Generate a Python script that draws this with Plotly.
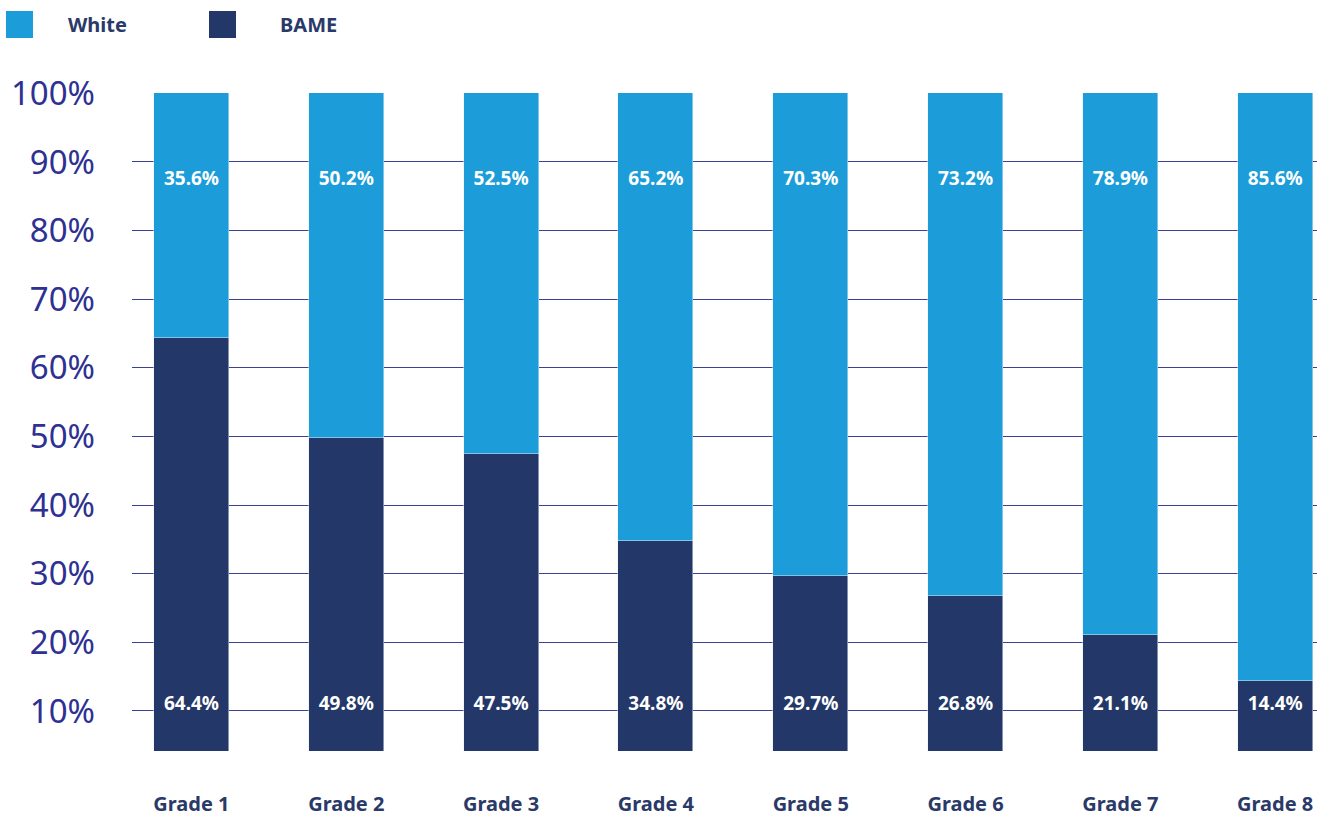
import plotly.graph_objects as go

grades = ["Grade 1", "Grade 2", "Grade 3", "Grade 4", "Grade 5", "Grade 6", "Grade 7", "Grade 8"]
white = [35.6, 50.2, 52.5, 65.2, 70.3, 73.2, 78.9, 85.6]
bame = [64.4, 49.8, 47.5, 34.8, 29.7, 26.8, 21.1, 14.4]
y_ticks = [10, 20, 30, 40, 50, 60, 70, 80, 90, 100]
y_tick_labels = [f"{v}%" for v in y_ticks]

WHITE_C = "#1c9dd9"
BAME_C = "#233868"
GRID_C = "#3a4196"
TICK_C = "#2e3192"
CAT_C = "#2a3a68"
FONT = "Noto Sans"

W, H = 1317, 816
L, R, T, B = 132, 0, 93, 65
pw, ph = W - L - R, H - T - B

fig = go.Figure()
fig.add_trace(go.Bar(x=grades, y=bame, name="BAME", marker_color=BAME_C,
                     width=0.484, showlegend=False, hoverinfo="x+y"))
fig.add_trace(go.Bar(x=grades, y=white, name="White", marker_color=WHITE_C,
                     width=0.484, showlegend=False, hoverinfo="x+y"))

# value labels
fig.add_trace(go.Scatter(x=grades, y=[87.3] * len(grades), mode="text",
                         text=[f"{v:.1f}%" for v in white],
                         textfont=dict(family=FONT, size=19, color="white", weight="bold"),
                         showlegend=False, hoverinfo="skip"))
fig.add_trace(go.Scatter(x=grades, y=[10.9] * len(grades), mode="text",
                         text=[f"{v:.1f}%" for v in bame],
                         textfont=dict(family=FONT, size=19, color="white", weight="bold"),
                         showlegend=False, hoverinfo="skip"))


def px_x(p):
    return (p - L) / pw


def px_y(p):
    return (H - B - p) / ph


# legend (drawn as shapes + text)
legend_items = [("White", WHITE_C, 6, 68), ("BAME", BAME_C, 209, 280)]
for name, col, sx, tx in legend_items:
    fig.add_shape(type="rect", xref="paper", yref="paper",
                  x0=px_x(sx), x1=px_x(sx + 27), y0=px_y(38), y1=px_y(11),
                  fillcolor=col, line_width=0)
    fig.add_annotation(xref="paper", yref="paper", x=px_x(tx), y=px_y(24),
                       text=name, showarrow=False, xanchor="left", yanchor="middle",
                       xshift=-2,
                       font=dict(family=FONT, size=20, color=CAT_C, weight="bold"))

fig.update_layout(
    width=W, height=H,
    margin=dict(l=L, r=R, t=T, b=B, pad=0),
    barmode="stack",
    bargap=0,
    plot_bgcolor="white",
    paper_bgcolor="white",
    font=dict(family=FONT),
    xaxis=dict(type="category", range=[-0.384, 7.27], showgrid=False, zeroline=False,
               showline=False, ticks="", ticklabelstandoff=39, automargin=False,
               tickfont=dict(family=FONT, size=20, color=CAT_C, weight="bold")),
    yaxis=dict(range=[4.17, 100.05], tickvals=y_ticks, ticktext=y_tick_labels,
               showgrid=True, gridcolor=GRID_C, gridwidth=1, zeroline=False,
               showline=False, ticks="", ticklabelstandoff=36, automargin=False,
               tickfont=dict(family=FONT, size=33, color=TICK_C)),
)

fig.write_html(
    "out.html",
    config={"displayModeBar": False},
    post_script="document.body.style.margin='0';document.body.style.overflow='hidden';",
)
